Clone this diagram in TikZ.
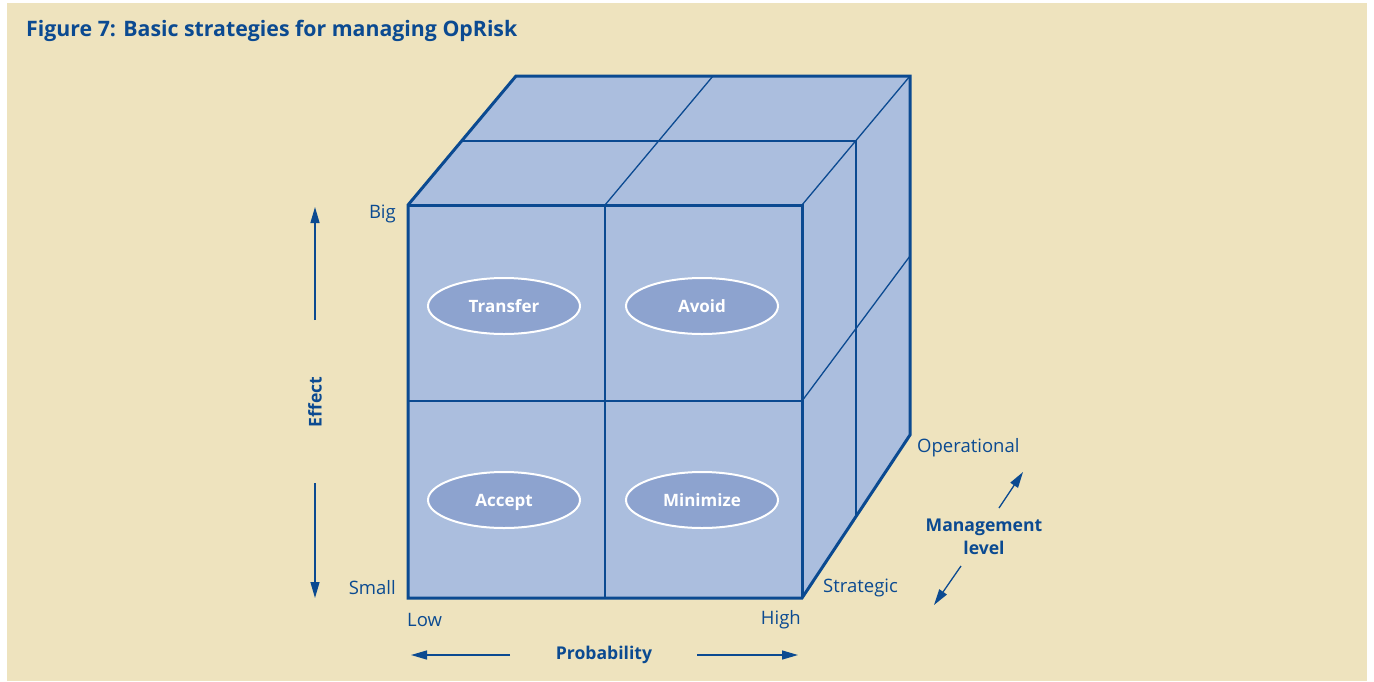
\documentclass[tikz,border=0pt]{standalone}
\usepackage{fontspec}
\setmainfont{Open Sans}
\usetikzlibrary{arrows.meta,shapes.geometric}
\definecolor{bg}{HTML}{EEE3BE}
\definecolor{cubefill}{HTML}{ABBEDE}
\definecolor{edge}{HTML}{0B4A91}
\definecolor{ellfill}{HTML}{8DA3CF}
\definecolor{txt}{HTML}{0B4A91}
\begin{document}
\begin{tikzpicture}[x=1pt,y=-1pt,
  thickedge/.style={draw=edge, line width=3pt, line join=miter},
  thinedge/.style={draw=edge, line width=1.3pt},
  lbl/.style={text=txt, font=\fontsize{18.5}{21}\selectfont, inner sep=0pt},
  blbl/.style={text=txt, font=\fontsize{17.6}{23}\selectfont\bfseries, inner sep=0pt, align=center},
  strat/.style={ellipse, draw=white, line width=2pt, fill=ellfill, minimum width=152pt, minimum height=56pt, inner sep=0pt, text height=16pt, text depth=3.5pt, text=white, font=\fontsize{17}{20}\selectfont\bfseries},
  axarrow/.style={draw=edge, line width=1.3pt, -{Triangle[length=16pt,width=9pt]}}]
\useasboundingbox (0,0) rectangle (1374,681);
\fill[white] (0,0) rectangle (1374,681);
\fill[bg] (7,3) rectangle (1367,681);
% cube corners
\coordinate (FTL) at (408,205);
\coordinate (FTR) at (802,205);
\coordinate (FBL) at (408,598);
\coordinate (FBR) at (802,598);
\coordinate (BTL) at (516,76);
\coordinate (BTR) at (910,76);
\coordinate (BBR) at (910,435);
% faces
\fill[cubefill] (FTL) rectangle (FBR);
\fill[cubefill] (FTL) -- (BTL) -- (BTR) -- (FTR) -- cycle;
\fill[cubefill] (FTR) -- (BTR) -- (BBR) -- (FBR) -- cycle;
% inner lines
\coordinate (FTM) at (605,205);
\coordinate (FBM) at (605,598);
\coordinate (FLM) at (408,401);
\coordinate (FRM) at (802,401);
\coordinate (BTM) at (713,76);
\coordinate (TLM) at (462,141);
\coordinate (TRM) at (856,141);
\coordinate (RBM) at (856,517);
\coordinate (BRM) at (910,256);
\draw[thinedge] (FTR) -- (BTR);
\draw[thinedge] (FTM) -- (BTM);
\draw[thinedge] (TLM) -- (TRM) -- (RBM);
\draw[thinedge] (FRM) -- (BRM);
\draw[thinedge] (FTM) -- (FBM);
\draw[thinedge] (FLM) -- (FRM);
% outline
\draw[thickedge] (FTL) -- (BTL) -- (BTR) -- (BBR) -- (FBR) -- (FBL) -- cycle;
\draw[thickedge] (FTL) -- (FTR) -- (FBR);
% strategies
\node[strat] (transfer) at (504,306) {Transfer};
\node[strat] (avoid) at (702,306) {Avoid};
\node[strat] (accept) at (504,500) {Accept};
\node[strat] (minimize) at (702,500) {Minimize};
% title
\node[text=txt, font=\fontsize{21.3}{25}\selectfont\bfseries, anchor=west, inner sep=0pt] (title) at (26,31) {Figure 7: Basic strategies for managing OpRisk};
% axis labels
\node[lbl, anchor=east] (big) at (396,214) {Big};
\node[lbl, anchor=east] (small) at (396,588) {Small};
\node[lbl, anchor=west] (low) at (407,620) {Low};
\node[lbl, anchor=east] (high) at (801,620) {High};
\node[lbl, anchor=west] (strategic) at (823,588) {Strategic};
\node[lbl, anchor=west] (operational) at (917,448) {Operational};
\node[blbl] (mgmt) at (984,537) {Management\\level};
\node[blbl] (prob) at (604,655) {Probability};
\node[blbl, rotate=90] (effect) at (315,402) {Effect};
% arrows
\coordinate (effUpS) at (315,320);
\coordinate (effUpE) at (315,207);
\coordinate (effDnS) at (315,483);
\coordinate (effDnE) at (315,598);
\coordinate (prLS) at (510,655);
\coordinate (prLE) at (411,655);
\coordinate (prRS) at (697,655);
\coordinate (prRE) at (798,655);
\coordinate (mgUS) at (999,508);
\coordinate (mgUE) at (1023,472);
\coordinate (mgDS) at (961,566);
\coordinate (mgDE) at (934,605);
\draw[axarrow] (effUpS) -- (effUpE);
\draw[axarrow] (effDnS) -- (effDnE);
\draw[axarrow] (prLS) -- (prLE);
\draw[axarrow] (prRS) -- (prRE);
\draw[axarrow] (mgUS) -- (mgUE);
\draw[axarrow] (mgDS) -- (mgDE);
\end{tikzpicture}
\end{document}
